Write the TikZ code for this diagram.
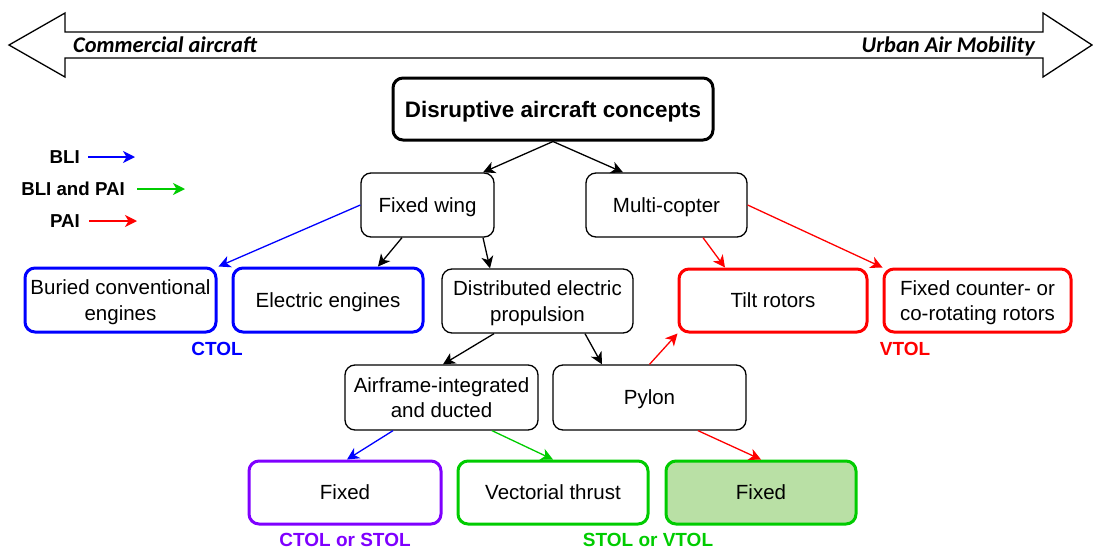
\documentclass[tikz,border=0pt]{standalone}
\usepackage{fontspec}
\setmainfont{Liberation Sans}
\newfontfamily\calib{Carlito}
\usetikzlibrary{arrows.meta,calc}

\definecolor{cblue}{HTML}{0000FF}
\definecolor{cgreen}{HTML}{00CC00}
\definecolor{cred}{HTML}{FF0000}
\definecolor{cpurple}{HTML}{7F00FF}
\definecolor{cfill}{HTML}{B9E0A5}

\begin{document}
\begin{tikzpicture}[x=1pt,y=-1pt,
  box/.style={draw=black, line width=1.3pt, rounded corners=10pt, inner sep=0pt,
    minimum width=#1, minimum height=64pt, align=center, text depth=0pt,
    font=\fontsize{20.5pt}{25.5pt}\selectfont},
  box/.default=192pt,
  thick box/.style={box=#1, line width=3pt},
  thick box/.default=190pt,
  flow/.style={-{Stealth[length=12pt,width=12pt,inset=3.5pt]}, line width=1.3pt},
  mode/.style={inner sep=0pt, text depth=0pt, font=\bfseries\fontsize{19pt}{22pt}\selectfont},
  legend/.style={inner sep=0pt, anchor=east, text depth=0pt, font=\bfseries\fontsize{18.7pt}{22pt}\selectfont},
  scale label/.style={inner sep=0pt, text depth=0pt, font=\calib\bfseries\itshape\fontsize{22.4pt}{26pt}\selectfont}
]
\useasboundingbox (0,0) rectangle (1093,549);

% double-headed scale arrow
\draw[line width=1.3pt, line join=miter, fill=white]
  (9,45) -- (65,13) -- (65,32) -- (1043,32) -- (1043,13) -- (1092,45)
  -- (1043,77) -- (1043,58) -- (65,58) -- (65,77) -- cycle;
\node[scale label, anchor=west] (commercial) at (73,45) {Commercial aircraft};
\node[scale label, anchor=east] (uam) at (1035,45) {Urban Air Mobility};

% root
\node[box=320pt, minimum height=62pt, line width=3pt,
      font=\bfseries\fontsize{22.4pt}{26pt}\selectfont] (dis) at (553,109) {Disruptive aircraft concepts};

% second level
\node[box=133pt] (fw) at (427.5,205) {Fixed wing};
\node[box=161pt] (mc) at (666.5,205) {Multi-copter};

% third level
\node[thick box=191pt, draw=cblue] (bce) at (120.5,300) {Buried conventional\\engines};
\node[thick box=190pt, draw=cblue] (ee) at (328,300) {Electric engines};
\node[box=191pt] (dep) at (537.5,301) {Distributed electric\\propulsion};
\node[thick box=188pt, draw=cred, minimum height=63pt] (tr) at (773,300.5) {Tilt rotors};
\node[thick box=187pt, draw=cred, minimum height=63pt] (fcr) at (977.5,300.5) {Fixed counter- or\\co-rotating rotors};

% fourth level
\node[box=193pt, minimum height=65pt] (aid) at (441.5,397.5) {Airframe-integrated\\and ducted};
\node[box=193pt, minimum height=65pt] (py) at (649.5,397.5) {Pylon};

% fifth level
\node[thick box=192pt, draw=cpurple, minimum height=63pt] (fx1) at (345,492.5) {Fixed};
\node[thick box=190pt, draw=cgreen, minimum height=63pt] (vt) at (553,492.5) {Vectorial thrust};
\node[thick box=190pt, draw=cgreen, fill=cfill, minimum height=63pt] (fx2) at (761,492.5) {Fixed};

% take-off mode labels
\node[mode, text=cblue] (ctol) at (217,349) {CTOL};
\node[mode, text=cred] (vtol) at (905,349) {VTOL};
\node[mode, text=cpurple] (cstol) at (345,540) {CTOL or STOL};
\node[mode, text=cgreen] (svtol) at (648,540) {STOL or VTOL};

% legend
\node[legend] (lbli) at (80,157) {BLI};
\node[legend] (lboth) at (125,189) {BLI and PAI};
\node[legend] (lpai) at (80,221) {PAI};
\coordinate (ebli) at (135,157);
\coordinate (eboth) at (185,189);
\coordinate (epai) at (137,221);
\draw[flow, cblue] ([xshift=8pt]lbli.east) -- (ebli);
\draw[flow, cgreen] ([xshift=12pt]lboth.east) -- (eboth);
\draw[flow, cred] ([xshift=9pt]lpai.east) -- (epai);

% connectors
\draw[flow] (dis.south) -- ($(fw.north)+(55.5,0)$);
\draw[flow] (dis.south) -- ($(mc.north)+(-43.5,0)$);
\draw[flow, cblue] (fw.west) -- ($(bce.north east)+(1,0)$);
\draw[flow] ($(fw.south)+(-25.5,0)$) -- ($(ee.north)+(50,0)$);
\draw[flow] ($(fw.south)+(55.5,0)$) -- ($(dep.north)+(-47.5,0)$);
\draw[flow, cred] ($(mc.south)+(36.5,0)$) -- ($(tr.north)+(-48,0)$);
\draw[flow, cred] (mc.east) -- (fcr.north west);
\draw[flow] ($(dep.south)+(-43.5,0)$) -- ($(aid.north)+(1.5,0)$);
\draw[flow] ($(dep.south)+(47.5,0)$) -- ($(py.north)+(-47.5,0)$);
\draw[flow, cred] (py.north) -- (tr.south west);
\draw[flow, cred] ($(py.south)+(48.5,0)$) -- (fx2.north);
\draw[flow, cblue] ($(aid.south)+(-48.5,0)$) -- ($(fx1.north)+(2,0)$);
\draw[flow, cgreen] ($(aid.south)+(50.5,0)$) -- (vt.north);
\end{tikzpicture}
\end{document}
